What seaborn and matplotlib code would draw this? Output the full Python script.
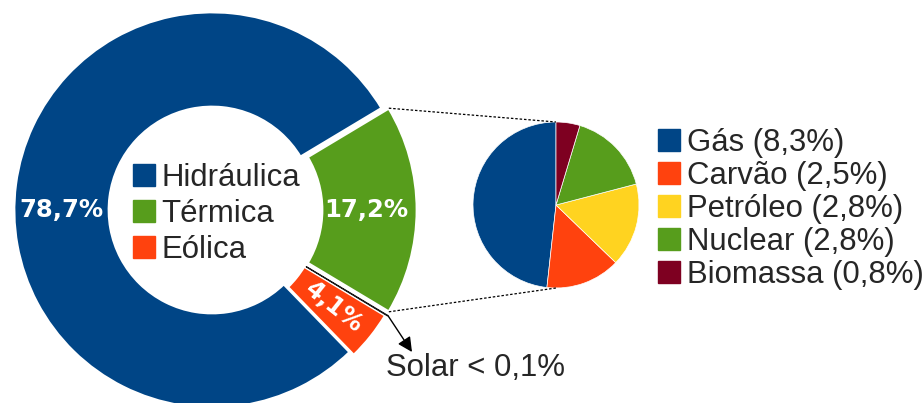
import numpy as np
import matplotlib
matplotlib.use("Agg")
import matplotlib.pyplot as plt
import matplotlib.patches as mpatches
import seaborn as sns

sns.set_theme(style="white")
plt.rcParams['font.family'] = ['Liberation Sans', 'DejaVu Sans']

# data
fontes = ['Eólica', 'Solar', 'Térmica', 'Hidráulica']
valores = [4.1, 0.05, 17.2, 78.7]
cores = ['#ff420e', '#1a1a1a', '#579d1c', '#004586']
rotulos = ['4,1%', '', '17,2%', '78,7%']

termicas = ['Gás', 'Carvão', 'Petróleo', 'Nuclear', 'Biomassa']
termicas_val = [8.3, 2.5, 2.8, 2.8, 0.8]
termicas_lbl = ['8,3%', '2,5%', '2,8%', '2,8%', '0,8%']
termicas_cores = ['#004586', '#ff420e', '#ffd320', '#579d1c', '#7e0021']

W, H = 923, 403
fig = plt.figure(figsize=(W / 100, H / 100), dpi=100)
ax = fig.add_axes([0, 0, 1, 1])

# donut
c1 = (212, 193)
R, r_in = 198, 103
expl_px = 7
tot = sum(valores)
start = -(valores[0] + valores[1] + valores[2] / 2) / tot * 360
explode = [5, expl_px, expl_px, 0]  # pie explode is in data units here
wedges, _ = ax.pie(valores, colors=cores, startangle=start, center=c1, radius=R,
                   explode=explode, counterclock=True,
                   wedgeprops=dict(width=R - r_in, edgecolor='white', linewidth=2))
wedges[1].set_edgecolor('#1a1a1a')
wedges[1].set_linewidth(0.8)

# wedge angles
ang = start
mids = []
bounds = []
for v in valores:
    a0 = ang
    ang += v / tot * 360
    bounds.append((a0, ang))
    mids.append((a0 + ang) / 2)

rm = (R + r_in) / 2
bold = dict(color='white', fontweight='bold', family='DejaVu Sans', fontsize=17.5,
            ha='center', va='center')
# Eólica
m = np.deg2rad(mids[0])
ax.text(c1[0] + (rm + 5) * np.cos(m), c1[1] + (rm + 5) * np.sin(m), rotulos[0],
        rotation=mids[0], **bold)
# Térmica
m = np.deg2rad(mids[2])
ax.text(c1[0] + (rm + 4) * np.cos(m), c1[1] + (rm + 4) * np.sin(m),
        rotulos[2], **bold)
# Hidráulica
ax.text(c1[0] - rm, c1[1], rotulos[3], **bold)

# right pie
c2 = (556, 198)
r2 = 83
ax.pie(termicas_val, colors=termicas_cores, startangle=90, center=c2, radius=r2,
       counterclock=True, wedgeprops=dict(edgecolor='white', linewidth=0.5))

# dotted connector lines
mt = np.deg2rad(mids[2])
off = (expl_px * np.cos(mt), expl_px * np.sin(mt))
for a, py in [(bounds[2][1], c2[1] + r2), (bounds[2][0], c2[1] - r2)]:
    t = np.deg2rad(a)
    x0 = c1[0] + off[0] + R * np.cos(t)
    y0 = c1[1] + off[1] + R * np.sin(t)
    ax.plot([x0, c2[0]], [y0, py], color='black', lw=0.9, ls=(0, (2, 1.5)))

# solar annotation
t = np.deg2rad(bounds[1][1])
ms = np.deg2rad(mids[1])
sx = c1[0] + expl_px * np.cos(ms) + R * np.cos(t)
sy = c1[1] + expl_px * np.sin(ms) + R * np.sin(t)
ax.annotate('', xy=(412, H - 352), xytext=(sx, sy),
            arrowprops=dict(arrowstyle='-|>', color='black', lw=1, mutation_scale=22,
                            shrinkA=0, shrinkB=0))
ax.text(476, H - 368, 'Solar < 0,1%', fontsize=22.4, ha='center', va='center')

# legends
h1 = [mpatches.Patch(color=cores[i]) for i in [3, 2, 0]]
leg1 = ax.legend(h1, [fontes[i] for i in [3, 2, 0]], loc='upper left',
                 bbox_to_anchor=(133, H - 163), bbox_transform=ax.transData,
                 frameon=False, fontsize=22.4, handlelength=0.7, handleheight=0.7,
                 handletextpad=0.22, labelspacing=0.19, borderpad=0, borderaxespad=0)
ax.add_artist(leg1)
h2 = [mpatches.Patch(color=c) for c in termicas_cores]
ax.legend(h2, [f'{n} ({p})' for n, p in zip(termicas, termicas_lbl)], loc='upper left',
          bbox_to_anchor=(658, H - 128), bbox_transform=ax.transData,
          frameon=False, fontsize=22.4, handlelength=0.7, handleheight=0.7,
          handletextpad=0.22, labelspacing=0.095, borderpad=0, borderaxespad=0)

ax.set_xlim(0, W)
ax.set_ylim(0, H)
ax.set_aspect('equal')
ax.axis('off')

fig.savefig('out.png', dpi=100)
